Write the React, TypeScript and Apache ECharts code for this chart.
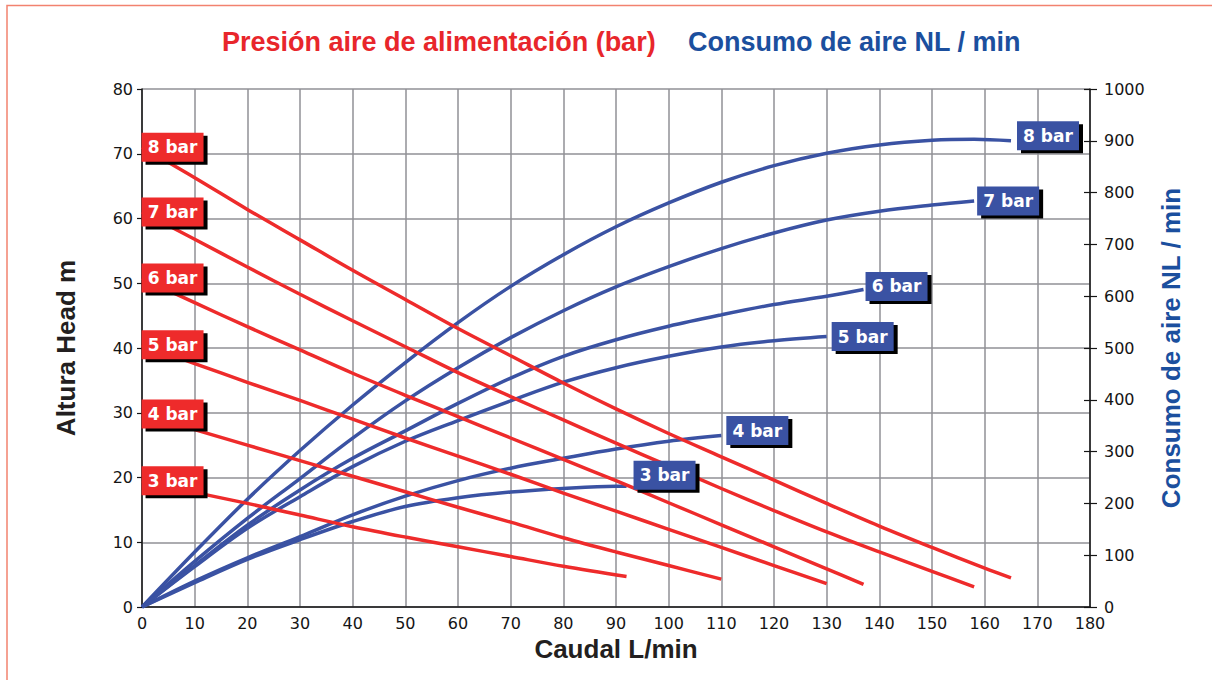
import React, { useEffect, useRef } from "react";
import * as echarts from "echarts";

// Altura (head, m) vs caudal (L/min) for each supply pressure
const head8: number[][] = [[0,71],[10,66.3],[20,61.4],[30,56.7],[40,52],[50,47.5],[60,43],[70,38.8],[80,34.6],[90,30.6],[100,26.8],[110,23.2],[120,19.6],[130,16],[140,12.5],[150,9.2],[160,6],[165,4.5]];
const head7: number[][] = [[0,61],[10,56.8],[20,52.5],[30,48.3],[40,44.2],[50,40.2],[60,36.2],[70,32.5],[80,28.9],[90,25.3],[100,21.8],[110,18.3],[120,14.9],[130,11.6],[140,8.5],[150,5.5],[158,3.1]];
const head6: number[][] = [[0,50.8],[10,47],[20,43.3],[30,39.7],[40,36.1],[50,32.7],[60,29.4],[70,26.1],[80,22.8],[90,19.5],[100,16.1],[110,12.7],[120,9.3],[130,5.9],[137,3.5]];
const head5: number[][] = [[0,40.5],[10,37.6],[20,34.7],[30,31.9],[40,29],[50,26.1],[60,23.3],[70,20.5],[80,17.6],[90,14.8],[100,12],[110,9.2],[120,6.4],[130,3.6]];
const head4: number[][] = [[0,29.8],[10,27.4],[20,25],[30,22.6],[40,20.2],[50,17.8],[60,15.4],[70,13.1],[80,10.7],[90,8.5],[100,6.4],[110,4.3]];
const head3: number[][] = [[0,19.5],[10,17.7],[20,16],[30,14.2],[40,12.4],[50,10.8],[60,9.3],[70,7.8],[80,6.3],[92,4.7]];

// Consumo de aire (NL/min) vs caudal (L/min)
const air8: number[][] = [[0,0],[10,106],[20,208],[30,302],[40,390],[50,472],[60,549],[70,619],[80,680],[90,734],[100,780],[110,820],[120,852],[130,876],[140,892],[150,901],[158,903],[165,900]];
const air7: number[][] = [[0,0],[10,88],[20,171],[30,248],[40,326],[50,398],[60,462],[70,520],[80,572],[90,618],[100,657],[110,692],[120,722],[130,747],[140,764],[150,776],[158,784]];
const air6: number[][] = [[0,0],[10,80],[20,158],[30,226],[40,287],[50,340],[60,393],[70,442],[80,484],[90,516],[100,542],[110,564],[120,584],[130,600],[137,613]];
const air5: number[][] = [[0,0],[10,78],[20,152],[30,213],[40,271],[50,320],[60,360],[70,398],[80,434],[90,462],[100,484],[110,502],[120,514],[130,522]];
const air4: number[][] = [[0,0],[10,50],[20,95],[30,136],[40,178],[50,214],[60,244],[70,268],[80,287],[90,305],[100,320],[110,331]];
const air3: number[][] = [[0,0],[10,47],[20,92],[30,130],[40,165],[50,194],[60,211],[70,222],[80,229],[90,233],[92,233]];

const pressureLabels = ["8 bar", "7 bar", "6 bar", "5 bar", "4 bar", "3 bar"];
const headSeries = [head8, head7, head6, head5, head4, head3];
const airSeries = [air8, air7, air6, air5, air4, air3];

const titleRed = "Presión aire de alimentación (bar)";
const titleBlue = "Consumo de aire NL / min";
const xName = "Caudal L/min";
const yLeftName = "Altura Head m";
const yRightName = "Consumo de aire NL / min";

const RED = "#ee2b2b";
const BLUE = "#3a52a3";
const BLUE_TEXT = "#1b4f9e";
const GRID = "#909096";
const INK = "#151515";

// layout of the tag boxes (pixels)
const TAG_W = 62;
const TAG_H = 29;
const RED_TAG_X = 5.8; // flow value at which the red tags are centred
const blueTagOffsets = [[37, -5], [34, 0], [33, -3], [36, 0], [36, -5], [38, -11]];

function tags(coord: number[], off: number[], color: string, text: string) {
  return [
    {
      coord,
      symbol: "rect",
      symbolSize: [TAG_W, TAG_H],
      symbolOffset: [off[0] + 4, off[1] + 3],
      itemStyle: { color: "#000" },
      label: { show: false },
    },
    {
      coord,
      symbol: "rect",
      symbolSize: [TAG_W, TAG_H],
      symbolOffset: [off[0], off[1]],
      itemStyle: { color },
      label: {
        show: true,
        position: "inside",
        formatter: text,
        color: "#ffffff",
        fontFamily: "DejaVu Sans",
        fontWeight: "bold",
        fontSize: 17,
      },
    },
  ];
}

export default function App() {
  const ref = useRef<HTMLDivElement>(null);

  useEffect(() => {
    if (!ref.current) return;
    const chart = echarts.init(ref.current, null, { renderer: "svg" });

    const blue = airSeries.map((d, i) => ({
      type: "line",
      name: "air " + pressureLabels[i],
      yAxisIndex: 1,
      data: d,
      smooth: 0.35,
      showSymbol: false,
      symbol: "none",
      lineStyle: { color: BLUE, width: 3.5 },
      z: 3,
      markPoint: {
        z: 10,
        silent: true,
        data: tags(d[d.length - 1], blueTagOffsets[i], BLUE, pressureLabels[i]),
      },
    }));

    const red = headSeries.map((d, i) => ({
      type: "line",
      name: "head " + pressureLabels[i],
      yAxisIndex: 0,
      data: d,
      smooth: 0.35,
      showSymbol: false,
      symbol: "none",
      lineStyle: { color: RED, width: 3.5 },
      z: 4,
      markPoint: {
        z: 10,
        silent: true,
        data: tags([RED_TAG_X, d[0][1]], [0, 0], RED, pressureLabels[i]),
      },
    }));

    const tickLabel = { fontFamily: "DejaVu Sans", fontSize: 16, color: INK };
    const nameStyle = { fontFamily: "Liberation Sans", fontWeight: "bold", fontSize: 26 };

    chart.setOption({
      animation: false,
      backgroundColor: "#ffffff",
      grid: { left: 142, right: 122, top: 89, bottom: 73 },
      xAxis: {
        type: "value",
        min: 0,
        max: 180,
        interval: 10,
        name: xName,
        nameLocation: "middle",
        nameGap: 24,
        nameTextStyle: { ...nameStyle, color: "#231f20" },
        axisLine: { show: true, lineStyle: { color: INK, width: 1.5 } },
        axisTick: { show: false },
        axisLabel: { ...tickLabel, margin: 8 },
        splitLine: { show: true, lineStyle: { color: GRID, width: 1.5 } },
      },
      yAxis: [
        {
          type: "value",
          position: "left",
          min: 0,
          max: 80,
          interval: 10,
          name: yLeftName,
          nameLocation: "middle",
          nameGap: 63,
          nameTextStyle: { ...nameStyle, color: "#231f20" },
          axisLine: { show: true, lineStyle: { color: INK, width: 1.5 } },
          axisTick: { show: true, length: 5, lineStyle: { color: INK, width: 1.2 } },
          axisLabel: { ...tickLabel, margin: 9 },
          splitLine: { show: true, lineStyle: { color: GRID, width: 1.5 } },
        },
        {
          type: "value",
          position: "right",
          min: 0,
          max: 1000,
          interval: 100,
          name: yRightName,
          nameLocation: "middle",
          nameGap: 68,
          nameTextStyle: { ...nameStyle, color: BLUE_TEXT },
          axisLine: { show: true, lineStyle: { color: INK, width: 1.5 } },
          axisTick: { show: true, length: 7, lineStyle: { color: INK, width: 1.2 } },
          axisLabel: { ...tickLabel, margin: 14, formatter: (v: number) => String(v) },
          splitLine: { show: false },
        },
        {
          type: "value",
          position: "right",
          min: 0,
          max: 1000,
          interval: 100,
          axisLine: { show: false },
          axisTick: { show: true, inside: true, length: 6, lineStyle: { color: INK, width: 1.2 } },
          axisLabel: { show: false },
          splitLine: { show: false },
        },
      ],
      graphic: [
        {
          type: "rect",
          shape: { x: 7, y: 5.5, width: 1400, height: 900 },
          style: { fill: "none", stroke: "#f2826f", lineWidth: 1.5 },
          silent: true,
          z: -10,
        },
        {
          type: "text",
          left: 222,
          top: 28,
          style: { text: titleRed, fill: "#e8262b", font: "bold 27px 'Liberation Sans'" },
        },
        {
          type: "text",
          left: 688,
          top: 28,
          style: { text: titleBlue, fill: BLUE_TEXT, font: "bold 27px 'Liberation Sans'" },
        },
      ],
      series: [...blue, ...red],
    });

    return () => chart.dispose();
  }, []);

  return (
    <div
      ref={ref}
      style={{ position: "absolute", left: 0, top: 0, width: 1212, height: 680 }}
    />
  );
}
